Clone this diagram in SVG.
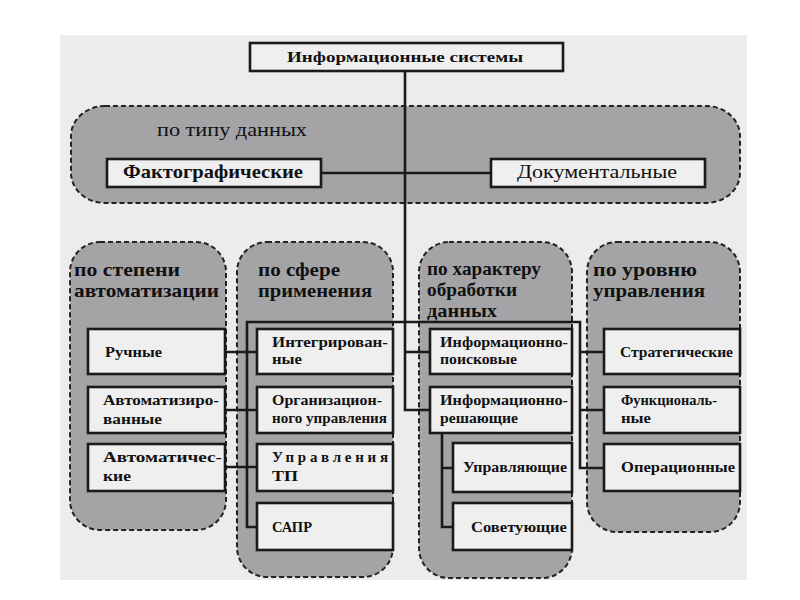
<svg xmlns="http://www.w3.org/2000/svg" width="800" height="600" viewBox="0 0 800 600" font-family="'Liberation Serif', 'Times New Roman', Times, serif">
<style>
.band{fill:#a4a4a6;stroke:#222;stroke-width:2;stroke-dasharray:5 3}
.box{fill:#efefef;stroke:#1a1a1a;stroke-width:2.6}
text{font-family:'Liberation Serif','DejaVu Serif',serif;fill:#111}
.bl{font-size:19px;font-weight:bold}
.bx{font-size:15px;font-weight:bold}
.ln{fill:none;stroke:#1a1a1a;stroke-width:2.6}
</style>
<rect x="0" y="0" width="800" height="600" fill="#ffffff"/>
<rect x="60" y="35" width="687" height="545" fill="#ececec"/>

<g id="band-type">
<rect class="band" x="71" y="106" width="669" height="97" rx="34" ry="30"/>
<text x="157" y="136" font-size="19" textLength="150" lengthAdjust="spacingAndGlyphs">по типу данных</text>
</g>
<g id="band-auto">
<rect class="band" x="70" y="242" width="156" height="288" rx="30" ry="30"/>
<text class="bl" x="74" y="276" textLength="106" lengthAdjust="spacingAndGlyphs">по степени</text>
<text class="bl" x="74" y="297" textLength="145" lengthAdjust="spacingAndGlyphs">автоматизации</text>
</g>
<g id="band-sphere">
<rect class="band" x="237" y="242" width="156" height="335" rx="30" ry="30"/>
<text class="bl" x="258" y="276" textLength="82" lengthAdjust="spacingAndGlyphs">по сфере</text>
<text class="bl" x="258" y="297" textLength="114" lengthAdjust="spacingAndGlyphs">применения</text>
</g>
<g id="band-proc">
<rect class="band" x="419" y="242" width="153" height="336" rx="30" ry="30"/>
<text class="bl" x="427" y="275" textLength="114" lengthAdjust="spacingAndGlyphs">по характеру</text>
<text class="bl" x="427" y="296" textLength="90" lengthAdjust="spacingAndGlyphs">обработки</text>
<text class="bl" x="427" y="317" textLength="70" lengthAdjust="spacingAndGlyphs">данных</text>
</g>
<g id="band-level">
<rect class="band" x="587" y="242" width="153" height="290" rx="30" ry="30"/>
<text class="bl" x="593" y="276" textLength="104" lengthAdjust="spacingAndGlyphs">по уровню</text>
<text class="bl" x="593" y="297" textLength="112" lengthAdjust="spacingAndGlyphs">управления</text>
</g>

<g id="connectors">
<path class="ln" d="M405 71 V410 H430"/>
<path class="ln" d="M321 173 H491"/>
<path class="ln" d="M405 352 H430"/>
<path class="ln" d="M604 468 H580 V322 H247 V527 H257"/>
<path class="ln" d="M225 352 H257 M225 410 H257 M225 467 H257"/>
<path class="ln" d="M580 352 H604 M580 410 H604"/>
<path class="ln" d="M442 433 V527 H453 M442 468 H453"/>
</g>

<g id="n-root">
<rect class="box" x="250" y="43" width="313" height="28"/>
<text class="bx" x="287" y="62" textLength="236" lengthAdjust="spacingAndGlyphs">Информационные системы</text>
</g>
<g id="n-fakt">
<rect class="box" x="107" y="159" width="214" height="28"/>
<text x="123" y="178" font-size="19" font-weight="bold" textLength="180" lengthAdjust="spacingAndGlyphs">Фактографические</text>
</g>
<g id="n-doc">
<rect class="box" x="491" y="159" width="214" height="28"/>
<text x="517" y="178" font-size="19" textLength="160" lengthAdjust="spacingAndGlyphs">Документальные</text>
</g>

<g id="n-ruch">
<rect class="box" x="88" y="329" width="137" height="45"/>
<text class="bx" x="105" y="357" textLength="57" lengthAdjust="spacingAndGlyphs">Ручные</text>
</g>
<g id="n-avtomatiz">
<rect class="box" x="88" y="387" width="137" height="46"/>
<text class="bx" x="103" y="405" textLength="116" lengthAdjust="spacingAndGlyphs">Автоматизиро-</text>
<text class="bx" x="103" y="424" textLength="59" lengthAdjust="spacingAndGlyphs">ванные</text>
</g>
<g id="n-avtomatich">
<rect class="box" x="88" y="444" width="137" height="47"/>
<text class="bx" x="103" y="462" textLength="119" lengthAdjust="spacingAndGlyphs">Автоматичес-</text>
<text class="bx" x="103" y="481" textLength="28" lengthAdjust="spacingAndGlyphs">кие</text>
</g>

<g id="n-integr">
<rect class="box" x="257" y="329" width="136" height="45"/>
<text class="bx" x="272" y="347" textLength="116" lengthAdjust="spacingAndGlyphs">Интегрирован-</text>
<text class="bx" x="272" y="364" textLength="30" lengthAdjust="spacingAndGlyphs">ные</text>
</g>
<g id="n-org">
<rect class="box" x="257" y="387" width="136" height="46"/>
<text class="bx" x="272" y="405" textLength="110" lengthAdjust="spacingAndGlyphs">Организацион-</text>
<text class="bx" x="272" y="423" textLength="115" lengthAdjust="spacingAndGlyphs">ного управления</text>
</g>
<g id="n-tp">
<rect class="box" x="257" y="444" width="136" height="47"/>
<text class="bx" x="272" y="462" textLength="116" lengthAdjust="spacing">Управления</text>
<text class="bx" x="272" y="481" textLength="26" lengthAdjust="spacingAndGlyphs">ТП</text>
</g>
<g id="n-sapr">
<rect class="box" x="257" y="503" width="136" height="47"/>
<text class="bx" x="272" y="532" textLength="40" lengthAdjust="spacingAndGlyphs">САПР</text>
</g>

<g id="n-poisk">
<rect class="box" x="430" y="329" width="142" height="45"/>
<text class="bx" x="440" y="347" textLength="128" lengthAdjust="spacingAndGlyphs">Информационно-</text>
<text class="bx" x="440" y="364" textLength="77" lengthAdjust="spacingAndGlyphs">поисковые</text>
</g>
<g id="n-resh">
<rect class="box" x="430" y="387" width="142" height="46"/>
<text class="bx" x="440" y="405" textLength="128" lengthAdjust="spacingAndGlyphs">Информационно-</text>
<text class="bx" x="440" y="423" textLength="78" lengthAdjust="spacingAndGlyphs">решающие</text>
</g>
<g id="n-upr">
<rect class="box" x="453" y="443" width="119" height="49"/>
<text class="bx" x="463" y="472" textLength="104" lengthAdjust="spacingAndGlyphs">Управляющие</text>
</g>
<g id="n-sov">
<rect class="box" x="453" y="503" width="119" height="47"/>
<text class="bx" x="471" y="532" textLength="96" lengthAdjust="spacingAndGlyphs">Советующие</text>
</g>

<g id="n-strat">
<rect class="box" x="604" y="329" width="136" height="45"/>
<text class="bx" x="620" y="357" textLength="113" lengthAdjust="spacingAndGlyphs">Стратегические</text>
</g>
<g id="n-func">
<rect class="box" x="604" y="387" width="136" height="46"/>
<text class="bx" x="621" y="405" textLength="96" lengthAdjust="spacingAndGlyphs">Функциональ-</text>
<text class="bx" x="621" y="423" textLength="30" lengthAdjust="spacingAndGlyphs">ные</text>
</g>
<g id="n-oper">
<rect class="box" x="604" y="444" width="136" height="47"/>
<text class="bx" x="621" y="472" textLength="114" lengthAdjust="spacingAndGlyphs">Операционные</text>
</g>
</svg>
